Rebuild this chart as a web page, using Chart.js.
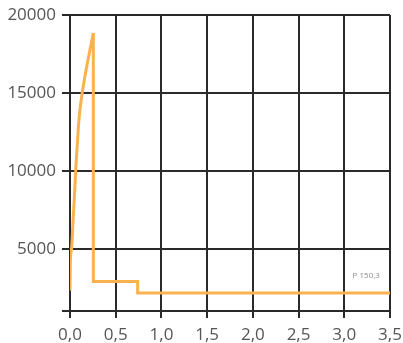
<!DOCTYPE html>
<html>
<head>
<meta charset="utf-8">
<script src="https://cdn.jsdelivr.net/npm/chart.js@4"></script>
<style>
  html, body { margin: 0; padding: 0; background: #fff; }
  #wrap { width: 403px; height: 343px; }
</style>
</head>
<body>
<div id="wrap"><canvas id="c" width="403" height="343"></canvas></div>
<script>
// Rising branch of the load curve (displacement, force)
const riseX = [0.0, 0.004, 0.017, 0.034, 0.052, 0.062, 0.077, 0.098, 0.139, 0.255];
const riseY = [2300, 4200, 5000, 6850, 8750, 10000, 11400, 13300, 15200, 18850];

// Drop after the peak and the two plateaus
const stepX = [0.255, 0.255, 0.74, 0.74, 3.5];
const stepY = [18850, 2900, 2900, 2150, 2150];

// Axis ticks
const xTicks = [0, 0.5, 1, 1.5, 2, 2.5, 3, 3.5];
const yTicks = [1000, 5000, 10000, 15000, 20000];
const yLabelled = [5000, 10000, 15000, 20000];

const noteText = 'P 150,3';

const lineColor = '#F9B24E';
const gridColor = '#2a2a2a';
const labelColor = '#555555';

const toPoints = (xs, ys) => xs.map((x, i) => ({ x: x, y: ys[i] }));

const notePlugin = {
  id: 'note',
  afterDraw(chart) {
    const { ctx, scales } = chart;
    ctx.save();
    ctx.font = '8px "Open Sans", sans-serif';
    ctx.fillStyle = '#8a8a8a';
    ctx.textAlign = 'center';
    ctx.textBaseline = 'middle';
    ctx.fillText(noteText, scales.x.getPixelForValue(3.24), scales.y.getPixelForValue(3250));
    ctx.restore();
  }
};

new Chart(document.getElementById('c'), {
  type: 'scatter',
  data: {
    datasets: [
      {
        data: toPoints(riseX, riseY),
        showLine: true,
        borderColor: lineColor,
        borderWidth: 3,
        pointRadius: 0,
        cubicInterpolationMode: 'monotone',
        fill: false
      },
      {
        data: toPoints(stepX, stepY),
        showLine: true,
        borderColor: lineColor,
        borderWidth: 3,
        pointRadius: 0,
        tension: 0,
        fill: false
      }
    ]
  },
  options: {
    responsive: false,
    animation: false,
    devicePixelRatio: 1,
    layout: { padding: { left: 0, right: 13, top: 15, bottom: 0 } },
    plugins: { legend: { display: false }, tooltip: { enabled: false } },
    scales: {
      x: {
        type: 'linear',
        min: 0,
        max: 3.5,
        afterBuildTicks: s => { s.ticks = xTicks.map(v => ({ value: v })); },
        afterFit: s => { s.height = 32; s.paddingLeft = 0; s.paddingRight = 0; },
        ticks: {
          color: labelColor,
          font: { family: '"Open Sans", sans-serif', size: 17 },
          padding: 7,
          maxRotation: 0,
          autoSkip: false,
          callback: v => v.toFixed(1).replace('.', ',')
        },
        grid: { color: gridColor, lineWidth: 2, tickLength: 7, tickColor: gridColor },
        border: { color: gridColor, width: 2 }
      },
      y: {
        type: 'linear',
        min: 1000,
        max: 20000,
        afterBuildTicks: s => { s.ticks = yTicks.map(v => ({ value: v })); },
        afterFit: s => { s.width = 70; s.paddingTop = 0; s.paddingBottom = 0; },
        ticks: {
          color: labelColor,
          font: { family: '"Open Sans", sans-serif', size: 17 },
          padding: 6,
          autoSkip: false,
          callback: v => (yLabelled.includes(v) ? String(v) : '')
        },
        grid: { color: gridColor, lineWidth: 2, tickLength: 8, tickColor: gridColor },
        border: { color: gridColor, width: 2 }
      }
    }
  },
  plugins: [notePlugin]
});
</script>
</body>
</html>
